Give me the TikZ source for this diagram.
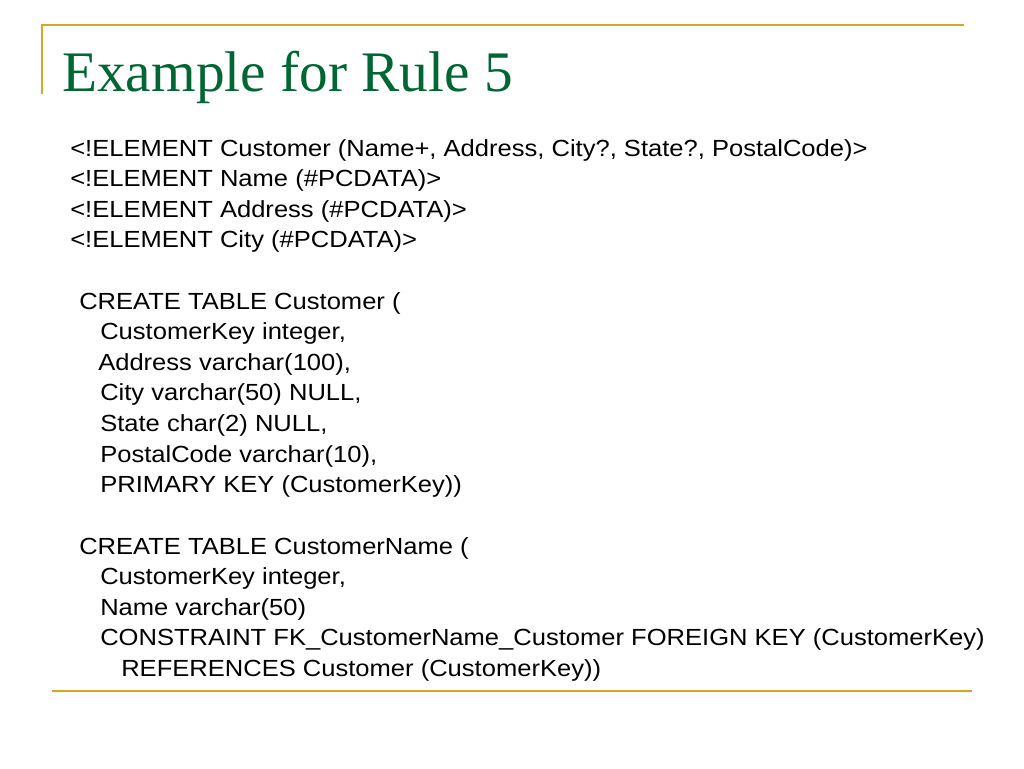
\documentclass[tikz,border=0pt]{standalone}
\usepackage{graphicx}
\usepackage{fontspec}
\setmainfont{Liberation Sans}
\newfontfamily\titlefont{Liberation Serif}
\definecolor{gold}{RGB}{214,168,40}
\definecolor{titlegreen}{RGB}{0,102,51}
\newcommand\widetxt[1]{\scalebox{1.095}[1]{#1}}
\begin{document}
\begin{tikzpicture}[x=0.75pt,y=-0.75pt,
  rulecol/.style={draw=gold,line width=2pt},
  titletxt/.style={anchor=base west,inner sep=0pt,text=titlegreen,font=\titlefont\fontsize{43}{52}\selectfont},
  codetxt/.style={anchor=base west,inner sep=0pt,font=\fontsize{17.5}{21}\selectfont}]
\useasboundingbox[fill=white] (0,0) rectangle (1024,768);
\coordinate (tl) at (42,25);
\coordinate (tr) at (964,25);
\coordinate (vb) at (42,94);
\coordinate (bl) at (52,691);
\coordinate (br) at (972,691);
\draw[rulecol] (vb) -- (tl) -- (tr);
\draw[rulecol] (bl) -- (br);
\node[titletxt] (title) at (62,91) {Example for Rule 5};
\node[codetxt] (l1) at (70,156) {\widetxt{<!ELEMENT Customer (Name+, Address, City?, State?, PostalCode)>}};
\node[codetxt] (l2) at (70,186.6) {\widetxt{<!ELEMENT Name (\#PCDATA)>}};
\node[codetxt] (l3) at (70,217.2) {\widetxt{<!ELEMENT Address (\#PCDATA)>}};
\node[codetxt] (l4) at (70,247.8) {\widetxt{<!ELEMENT City (\#PCDATA)>}};
\node[codetxt] (c1) at (79,309) {\widetxt{CREATE TABLE Customer (}};
\node[codetxt] (c2) at (100,339.6) {\widetxt{CustomerKey integer,}};
\node[codetxt] (c3) at (98,370.2) {\widetxt{Address varchar(100),}};
\node[codetxt] (c4) at (100,400.8) {\widetxt{City varchar(50) NULL,}};
\node[codetxt] (c5) at (100,431.4) {\widetxt{State char(2) NULL,}};
\node[codetxt] (c6) at (100,462) {\widetxt{PostalCode varchar(10),}};
\node[codetxt] (c7) at (100,492.6) {\widetxt{PRIMARY KEY (CustomerKey))}};
\node[codetxt] (d1) at (79,554) {\widetxt{CREATE TABLE CustomerName (}};
\node[codetxt] (d2) at (100,584.6) {\widetxt{CustomerKey integer,}};
\node[codetxt] (d3) at (100,615.2) {\widetxt{Name varchar(50)}};
\node[codetxt] (d4) at (100,645.8) {\widetxt{CONSTRAINT FK\_CustomerName\_Customer FOREIGN KEY (CustomerKey)}};
\node[codetxt] (d5) at (121,676.4) {\widetxt{REFERENCES Customer (CustomerKey))}};
\end{tikzpicture}
\end{document}
